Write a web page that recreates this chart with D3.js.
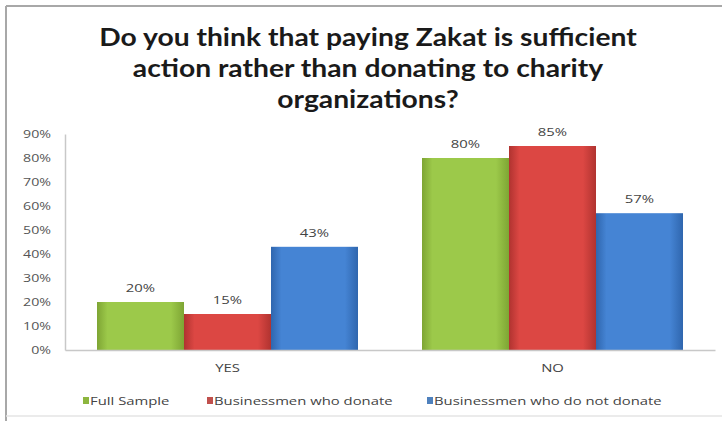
<!DOCTYPE html>
<html><head><meta charset="utf-8">
<script src="https://cdn.jsdelivr.net/npm/d3@7"></script>
<style>html,body{margin:0;padding:0;background:#fff;}svg{display:block;}</style>
</head><body>
<svg id="c" width="722" height="421"></svg>
<script>
const categories = ["YES", "NO"];
const seriesNames = ["Full Sample", "Businessmen who donate", "Businessmen who do not donate"];
const fullSample = [20, 80];
const donate = [15, 85];
const notDonate = [43, 57];
const yTicks = [0, 10, 20, 30, 40, 50, 60, 70, 80, 90];
const titleLines = ["Do you think that paying Zakat is sufficient", "action rather than donating to charity", "organizations?"];

const seriesValues = [fullSample, donate, notDonate];
const colors = [
  {mid: "#9cc94a", edge: "#7ea534", legend: "#8db63e"},
  {mid: "#dc4743", edge: "#b03330", legend: "#c0504d"},
  {mid: "#4584d4", edge: "#2f66ae", legend: "#4f81bd"}
];

const svg = d3.select("#c");
const defs = svg.append("defs");
colors.forEach((c, i) => {
  const g = defs.append("linearGradient").attr("id", "g" + i).attr("x1", 0).attr("x2", 1).attr("y1", 0).attr("y2", 0);
  g.append("stop").attr("offset", "0%").attr("stop-color", c.edge);
  g.append("stop").attr("offset", "12%").attr("stop-color", c.mid);
  g.append("stop").attr("offset", "85%").attr("stop-color", c.mid);
  g.append("stop").attr("offset", "100%").attr("stop-color", c.edge);
});

const FONT = "'Open Sans', sans-serif";
const STRETCH = 1.35;
function stretch(sel, f) {
  sel.each(function () {
    const w = this.getComputedTextLength();
    d3.select(this).attr("textLength", w * (f || STRETCH)).attr("lengthAdjust", "spacingAndGlyphs");
  });
}

// frame
svg.append("line").attr("x1", 6).attr("x2", 6).attr("y1", 6).attr("y2", 421).attr("stroke", "#a8a8a8").attr("stroke-width", 2);
svg.append("line").attr("x1", 6).attr("x2", 722).attr("y1", 6).attr("y2", 6).attr("stroke", "#a8a8a8").attr("stroke-width", 2);
svg.append("line").attr("x1", 6).attr("x2", 722).attr("y1", 416).attr("y2", 416).attr("stroke", "#e4e4e4").attr("stroke-width", 1.5);

// title
svg.append("g").selectAll("text").data(titleLines).join("text")
  .attr("text-anchor", "middle")
  .attr("x", 368).attr("y", (d, i) => 46 + i * 31)
  .attr("font-family", "Lato, 'Open Sans', sans-serif").attr("font-weight", "bold")
  .attr("font-size", 25).attr("fill", "#1a1a1a")
  .text(d => d)
  .call(stretch, 1.13);

const x0 = 65, x1 = 715, yTop = 134, yBase = 350;
const x = d3.scaleBand().domain(categories).range([x0, x1]).padding(0);
const xi = d3.scaleBand().domain(seriesNames).range([32, x.bandwidth() - 32]).padding(0);
const y = d3.scaleLinear().domain([0, 90]).range([yBase, yTop]);

// y axis
const yAxis = svg.append("g").attr("transform", `translate(${x0},0)`)
  .call(d3.axisLeft(y).tickValues(yTicks).tickFormat(d => d + "%").tickSize(0).tickPadding(14));
yAxis.select(".domain").attr("stroke", "#c8c8c8").attr("stroke-width", 1.5);
yAxis.selectAll("text").attr("font-family", FONT).attr("font-size", 10.5).attr("fill", "#555").call(stretch);

// bars
const groups = svg.append("g").selectAll("g").data(categories).join("g")
  .attr("transform", d => `translate(${x(d)},0)`);
seriesNames.forEach((s, si) => {
  groups.append("rect")
    .attr("x", xi(s)).attr("width", xi.bandwidth())
    .attr("y", (d, ci) => y(seriesValues[si][ci]))
    .attr("height", (d, ci) => yBase - y(seriesValues[si][ci]))
    .attr("fill", `url(#g${si})`);
  groups.append("text")
    .attr("x", xi(s) + xi.bandwidth() / 2)
    .attr("y", (d, ci) => y(seriesValues[si][ci]) - 10)
    .attr("text-anchor", "middle")
    .attr("font-family", FONT).attr("font-size", 11).attr("fill", "#444")
    .text((d, ci) => seriesValues[si][ci] + "%")
    .call(stretch);
});

// x axis
const xAxis = svg.append("g").attr("transform", `translate(0,${yBase})`)
  .call(d3.axisBottom(x).tickSize(0).tickPadding(14));
xAxis.select(".domain").attr("stroke", "#c8c8c8").attr("stroke-width", 1.5);
xAxis.selectAll("text").attr("font-family", FONT).attr("font-size", 11).attr("fill", "#444").call(stretch);

// legend
const legX = [83, 207, 427];
const leg = svg.append("g").selectAll("g").data(seriesNames).join("g")
  .attr("transform", (d, i) => `translate(${legX[i]},401)`);
leg.append("rect").attr("x", 0).attr("y", -4).attr("width", 6).attr("height", 7)
  .attr("fill", (d, i) => colors[i].legend);
leg.append("text").attr("x", 7).attr("y", 4)
  .attr("font-family", FONT).attr("font-size", 11).attr("fill", "#444")
  .text(d => d)
  .call(stretch);
</script>
</body></html>
